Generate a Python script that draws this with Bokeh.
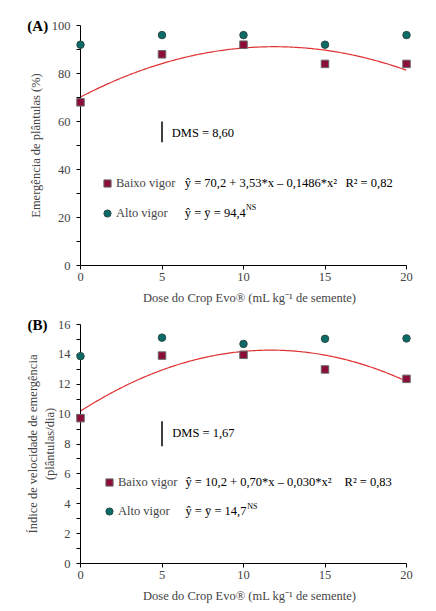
import numpy as np
from bokeh.plotting import figure
from bokeh.models import Range1d, FixedTicker, Label, Legend, LegendItem
from bokeh.core.properties import value
from bokeh.layouts import column
from bokeh.embed import file_html
from bokeh.resources import INLINE

FONT = "Liberation Serif"

# ---- data ----
dose = [0, 5, 10, 15, 20]
dose_ticks = [0, 5, 10, 15, 20]

a_baixo = [68.0, 88.0, 92.0, 84.0, 84.0]
a_alto = [92.0, 96.0, 96.0, 92.0, 96.0]
a_coef = [70.2, 3.53, -0.1486]
a_dms = 8.60
a_dms_top = 60.0
a_yticks = [0, 20, 40, 60, 80, 100]
a_yminor = [10, 30, 50, 70, 90]

b_baixo = [9.73, 13.92, 13.97, 12.99, 12.36]
b_alto = [13.88, 15.12, 14.7, 15.04, 15.07]
b_coef = [10.2, 0.70, -0.030]
b_dms = 1.67
b_dms_top = 9.52
b_yticks = [0, 2, 4, 6, 8, 10, 12, 14, 16]
b_yminor = [1, 3, 5, 7, 9, 11, 13, 15]

XLABEL = "\u00a0\u00a0\u00a0\u00a0Dose do Crop Evo\u00ae (mL kg\u207b\u00b9 de semente)"
SQ_FILL, SQ_LINE = "#8B0D3A", "#6A6A6A"
CI_FILL, CI_LINE = "#0B6B66", "#2E4A4A"
CURVE = "#E03232"


def panel(tag, baixo, alto, coef, ymax, yticks, yminor, ylabel, dms_top, dms,
          eq1, r2, eq2, geo, txt):
    width, height, bl, br, bt, bb = geo
    p = figure(width=width, height=height, output_backend="svg", toolbar_location=None,
               x_range=Range1d(0, 20), y_range=Range1d(0, ymax),
               min_border_left=bl, min_border_right=br, min_border_top=bt, min_border_bottom=bb)
    p.outline_line_color = None
    p.xgrid.visible = False
    p.ygrid.visible = False

    xa = p.xaxis[0]
    xa.ticker = FixedTicker(ticks=dose_ticks)
    xa.axis_label = XLABEL
    xa.axis_label_text_font = FONT
    xa.axis_label_text_font_size = "12.5px"
    xa.axis_label_text_font_style = "normal"
    xa.axis_label_standoff = txt["xstand"]
    xa.major_label_text_font = FONT
    xa.major_label_text_font_size = "12.5px"
    xa.major_label_standoff = 3
    xa.major_tick_out = 4
    xa.major_tick_in = 0
    xa.minor_tick_out = 0
    xa.axis_line_color = "black"
    xa.major_tick_line_color = "black"

    ya = p.yaxis[0]
    ya.ticker = FixedTicker(ticks=yticks, minor_ticks=yminor)
    ya.axis_label = ylabel
    ya.axis_label_text_font = FONT
    ya.axis_label_text_font_size = "12.5px"
    ya.axis_label_text_font_style = "normal"
    ya.axis_label_standoff = txt["ystand"]
    ya.major_label_text_font = FONT
    ya.major_label_text_font_size = "12.5px"
    ya.major_label_standoff = 6
    ya.major_tick_out = 4
    ya.major_tick_in = 0
    ya.minor_tick_out = 4
    ya.minor_tick_in = 0
    ya.axis_line_color = "black"
    ya.major_tick_line_color = "black"
    ya.minor_tick_line_color = "black"

    # fitted curve from the published coefficients
    xc = np.linspace(0, 20, 201)
    yc = coef[0] + coef[1] * xc + coef[2] * xc ** 2
    p.line(xc, yc, line_color=CURVE, line_width=1.2)

    # DMS bar
    p.segment(x0=[5], y0=[dms_top - dms], x1=[5], y1=[dms_top], line_color="black", line_width=1.5)

    r_ci = p.scatter(dose, alto, marker="circle", size=7.5, fill_color=CI_FILL,
                     line_color=CI_LINE, line_width=1, level="overlay")
    r_sq = p.scatter(dose, baixo, marker="square", size=7.5, fill_color=SQ_FILL,
                     line_color=SQ_LINE, line_width=1, level="overlay")

    legend = Legend(items=[LegendItem(label="Baixo vigor", renderers=[r_sq]),
                           LegendItem(label="Alto vigor", renderers=[r_ci])],
                    location=txt["legloc"], orientation="vertical",
                    glyph_width=18, glyph_height=18, label_height=18, label_width=10,
                    label_standoff=-3, spacing=txt["legsp"], padding=0, margin=0,
                    border_line_color=None, background_fill_alpha=0,
                    label_text_font=FONT, label_text_font_size="12.5px")
    p.add_layout(legend)

    # panel tag, drawn as an unclipped text glyph
    p.text(x=[txt["tag"][0]], y=[txt["tag"][1]], text=[tag], text_font=value(FONT),
           text_font_size="15px", text_font_style="bold", text_baseline="middle",
           text_align="left", text_color="black", level="overlay")

    def lab(x, y, text, size="12.5px"):
        p.add_layout(Label(x=x, y=y, text=text, text_font=FONT, text_font_size=size,
                           text_baseline="middle", text_align="left", text_color="black"))

    lab(*txt["dms"], "DMS = %s" % ("%.2f" % dms).replace(".", ","))
    lab(*txt["eq1"], eq1)
    lab(*txt["r2"], r2)
    lab(*txt["eq2"], eq2)
    lab(*txt["ns"], "NS", size="8px")
    return p


pa = panel("(A)", a_baixo, a_alto, a_coef, 100, a_yticks, a_yminor,
           "Emergência de plântulas (%)", a_dms_top, a_dms,
           "ŷ = 70,2 + 3,53*x – 0,1486*x²", "R² = 0,82", "ŷ = ȳ = 94,4",
           (436, 308, 79, 26, 25, 43),
           dict(xstand=7, ystand=6, legloc=(18, 43), legsp=12,
                tag=(-3.26, 100.0), dms=(5.6, 55.1), eq1=(6.4, 34.2), r2=(16.25, 34.2),
                eq2=(6.4, 21.7), ns=(10.15, 24.0)))

pb = panel("(B)", b_baixo, b_alto, b_coef, 16, b_yticks, b_yminor,
           "Índice de velocidade de emergência\n(plântulas/dia)", b_dms_top, b_dms,
           "ŷ = 10,2 + 0,70*x – 0,030*x²", "R² = 0,83", "ŷ = ȳ = 14,7",
           (436, 302, 80, 30, 16, 47),
           dict(xstand=7, ystand=-2, legloc=(20, 43), legsp=11,
                tag=(-3.25, 16.0), dms=(5.63, 8.72), eq1=(6.44, 5.44), r2=(16.2, 5.44),
                eq2=(6.44, 3.5), ns=(10.23, 3.8)))

layout = column(pa, pb)
open("out.html", "w").write(file_html(layout, INLINE))
